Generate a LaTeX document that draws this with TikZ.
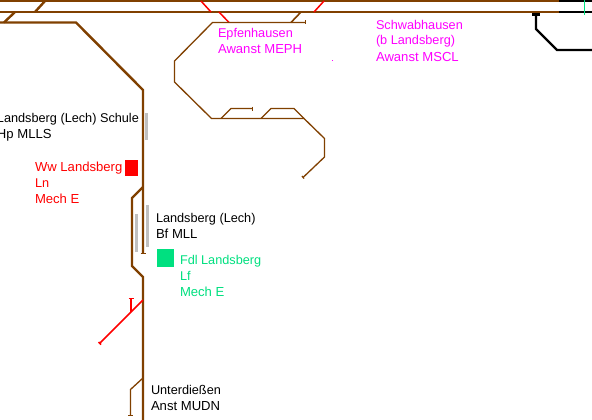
\documentclass[tikz,border=0pt]{standalone}
\usepackage{fontspec}
\setmainfont{Liberation Sans}
\definecolor{trackbrown}{RGB}{128,64,0}
\definecolor{trackred}{RGB}{255,0,0}
\definecolor{fdlgreen}{RGB}{0,224,128}
\definecolor{platgray}{RGB}{192,192,192}
\definecolor{labelmag}{RGB}{255,0,255}
\tikzset{
  main/.style={draw=trackbrown,line width=2.4pt},
  minor/.style={draw=trackbrown,line width=1.3pt},
  redmain/.style={draw=trackred,line width=1.5pt},
  blackmain/.style={draw=black,line width=2.2pt},
  platform/.style={draw=platgray,line width=3pt},
  lbl/.style={anchor=base west,inner sep=0pt,outer sep=0pt,font=\fontsize{12.7}{16}\selectfont},
  lblwide/.style={anchor=base west,inner sep=0pt,outer sep=0pt,font=\fontsize{13.1}{16}\selectfont},
}
\begin{document}
\begin{tikzpicture}[x=1pt,y=-1pt]
\useasboundingbox (0,0) rectangle (592,420);
\clip (0,0) rectangle (592,420);
\fill[white] (0,0) rectangle (592,420);
% top running lines
\draw[main] (0,1) -- (559,1);
\draw[main] (0,12) -- (559,12);
\draw[blackmain] (559,1) -- (592,1);
\draw[blackmain] (559,12) -- (592,12);
\draw[draw=fdlgreen,line width=1pt] (584.5,0) -- (584.5,15);
% crossovers
\draw[main] (4,22.5) -- (15,12);
\draw[main] (35,12) -- (45,1);
\draw[redmain] (201,1) -- (211,12);
\draw[redmain] (219,12) -- (229,22.5);
\draw[main,line width=1.6pt] (291,22.5) -- (301,12);
\draw[redmain] (314,12) -- (324,1);
% main branch
\draw[main] (0,22.5) -- (76,22.5) -- (143,90) -- (143,253);
\draw[main] (143,187) -- (132,198) -- (132,266) -- (143,277) -- (143,420);
\draw[minor] (140.5,253.5) -- (145.5,253.5);
% Epfenhausen siding
\draw[minor] (305.5,22.5) -- (212.5,22.5) -- (174.5,61) -- (174.5,82) -- (211.5,118.5) -- (304,118.5) -- (324.5,138.5) -- (324.5,157) -- (303,177.5);
\draw[minor] (305.5,20.5) -- (305.5,24.5);
\draw[minor] (302,176) -- (304,178.5);
\draw[minor] (221,118.5) -- (231,108.5) -- (252.5,108.5);
\draw[minor] (252.5,106.5) -- (252.5,110.5);
\draw[minor] (261,118.5) -- (271,108.5) -- (294,108.5) -- (304,118.5);
% black line
\draw[blackmain] (532,14.5) -- (540,14.5);
\draw[blackmain] (536,14.5) -- (536,29) -- (557,50) -- (592,50);
% platforms
\draw[platform] (146.5,113) -- (146.5,140);
\draw[platform] (147.5,205) -- (147.5,247);
\draw[platform] (136.5,214) -- (136.5,252);
% block squares
\fill[trackred] (125,160) rectangle (138,176);
\fill[fdlgreen] (157,249) rectangle (174,267);
% red branch
\draw[redmain] (143,300) -- (100,343);
\draw[redmain] (98.5,342) -- (101,344.5);
\draw[redmain,line width=1.2pt] (131,312) -- (131,298.5);
\draw[redmain,line width=1.2pt] (128.5,298.5) -- (133.5,298.5);
% Unterdiessen siding
\draw[minor] (143,378) -- (130.5,389.5) -- (130.5,415.5);
\draw[minor] (128,415.5) -- (133,415.5);
% magenta dot
\fill[labelmag] (332,60) rectangle (333,61);
% labels
\node[lbl,text=labelmag] (epf1) at (218,38) {Epfenhausen};
\node[lblwide,text=labelmag] (epf2) at (218,54) {Awanst MEPH};
\node[lbl,text=labelmag] (sch1) at (376,30) {Schwabhausen};
\node[lbl,text=labelmag] (sch2) at (376,45) {(b Landsberg)};
\node[lblwide,text=labelmag] (sch3) at (376,62) {Awanst MSCL};
\node[lbl] (hp1) at (-3,122) {Landsberg (Lech) Schule};
\node[lblwide] (hp2) at (-3,138) {Hp MLLS};
\node[lblwide,text=trackred] (ww1) at (35,171) {Ww Landsberg};
\node[lbl,text=trackred] (ww2) at (35,187) {Ln};
\node[lblwide,text=trackred] (ww3) at (35,203) {Mech E};
\node[lbl] (bf1) at (156,222) {Landsberg (Lech)};
\node[lblwide] (bf2) at (156,238) {Bf MLL};
\node[lbl,text=fdlgreen] (fd1) at (180,264) {Fdl Landsberg};
\node[lbl,text=fdlgreen] (fd2) at (180,280) {Lf};
\node[lblwide,text=fdlgreen] (fd3) at (180,296) {Mech E};
\node[lbl] (un1) at (151,394) {Unterdießen};
\node[lblwide] (un2) at (151,410) {Anst MUDN};
\end{tikzpicture}
\end{document}
